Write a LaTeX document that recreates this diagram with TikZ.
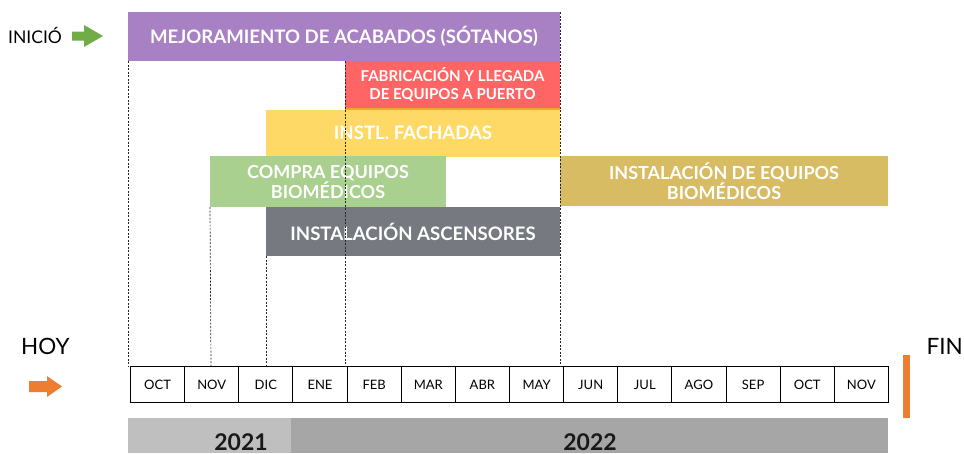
\documentclass[tikz,border=0pt]{standalone}
\usepackage{fontspec}
\setmainfont{Lato}
\definecolor{cpurple}{HTML}{A880C4}
\definecolor{cred}{HTML}{FF6565}
\definecolor{cyellow}{HTML}{FFD966}
\definecolor{cgreen}{HTML}{A9D08E}
\definecolor{ctan}{HTML}{D7BC64}
\definecolor{cgray}{HTML}{767A80}
\definecolor{corange}{HTML}{ED7D31}
\definecolor{carrowgreen}{HTML}{70AD47}
\definecolor{cy21}{HTML}{BFBFBF}
\definecolor{cy22}{HTML}{A6A6A6}
\definecolor{cline}{HTML}{F5A33A}
\tikzset{
  bar/.style={anchor=north west, inner sep=0pt, outer sep=0pt, text=white,
    font=\fontsize{18.6}{20}\selectfont\bfseries, align=center},
  month/.style={draw=black, line width=1pt, anchor=north west, minimum width=54.14pt,
    minimum height=36pt, inner sep=0pt, font=\fontsize{13}{14}\selectfont},
  guide/.style={draw=black!85, line width=0.7pt, dash pattern=on 2pt off 1.5pt},
  yearbox/.style={anchor=north west, inner sep=0pt, outer sep=0pt, minimum height=35pt},
  yeartext/.style={font=\fontsize{23}{25}\selectfont\bfseries, anchor=base, text=black!90, inner sep=0pt},
}
\begin{document}
\begin{tikzpicture}[x=1pt,y=-1pt]
\useasboundingbox (0,0) rectangle (964,453);
% bars
\node[bar, fill=cpurple, minimum width=432pt, minimum height=49pt] (mej) at (128,12) {MEJORAMIENTO DE ACABADOS (SÓTANOS)};
\node[bar, fill=cred, minimum width=215pt, minimum height=48pt, font=\fontsize{15}{18}\selectfont\bfseries] (fab) at (345,61) {FABRICACIÓN Y LLEGADA\\DE EQUIPOS A PUERTO};
\node[bar, fill=cyellow, minimum width=294pt, minimum height=47pt] (fach) at (266,109.5) {INSTL. FACHADAS};
\draw[cline, line width=1.2pt] (fab.south west) -- (fab.south east);
\node[bar, fill=cgreen, minimum width=236pt, minimum height=51pt, font=\fontsize{18}{20}\selectfont\bfseries] (compra) at (210,156) {COMPRA EQUIPOS\\BIOMÉDICOS};
\node[bar, fill=ctan, minimum width=328pt, minimum height=50pt, font=\fontsize{18}{20}\selectfont\bfseries] (inst) at (560,156) {INSTALACIÓN DE EQUIPOS\\BIOMÉDICOS};
\node[bar, fill=cgray, minimum width=294pt, minimum height=49pt] (asc) at (266,207) {INSTALACIÓN ASCENSORES};
% months
\foreach \m [count=\i from 0] in {OCT,NOV,DIC,ENE,FEB,MAR,ABR,MAY,JUN,JUL,AGO,SEP,OCT,NOV}{
  \node[month] (m\i) at (130+54.14*\i,366) {\m};
}
% guides
\coordinate (g1) at (128,366);
\coordinate (g2) at (211,366);
\coordinate (g3) at (266,366);
\coordinate (g4) at (345,366);
\coordinate (g5) at (560,366);
\draw[guide] (mej.south west) -- (g1);
\draw[guide] (compra.south west) -- (g2);
\draw[guide] (asc.south west) -- (g3);
\draw[guide] (fab.north west) -- (g4);
\draw[guide] (mej.north east) -- (g5);
% years
\node[yearbox, fill=cy21, minimum width=163pt] (y21) at (128,418) {};
\node[yearbox, fill=cy22, minimum width=597pt] (y22) at (291,418) {};
\node[yeartext] (t21) at (241,450) {2021};
\node[yeartext] (t22) at (590,450) {2022};
% side labels
\node[font=\fontsize{17.5}{18}\selectfont, anchor=base west, inner sep=0pt] (inicio) at (8,43) {INICIÓ};
\fill[carrowgreen] (72,31.5) -- (84,31.5) -- (84,25) -- (103,36) -- (84,47) -- (84,40.5) -- (72,40.5) -- cycle;
\node[font=\fontsize{22.5}{25}\selectfont, anchor=base west, inner sep=0pt] (hoy) at (21,354) {HOY};
\fill[corange] (29,381) -- (47,381) -- (47,376) -- (62,386.5) -- (47,397) -- (47,392) -- (29,392) -- cycle;
\node[font=\fontsize{22.5}{25}\selectfont, anchor=base east, inner sep=0pt] (fin) at (963,354) {FIN};
\node[fill=corange, minimum width=7pt, minimum height=63pt, inner sep=0pt, anchor=north west] (finbar) at (903,355) {};
\end{tikzpicture}
\end{document}
